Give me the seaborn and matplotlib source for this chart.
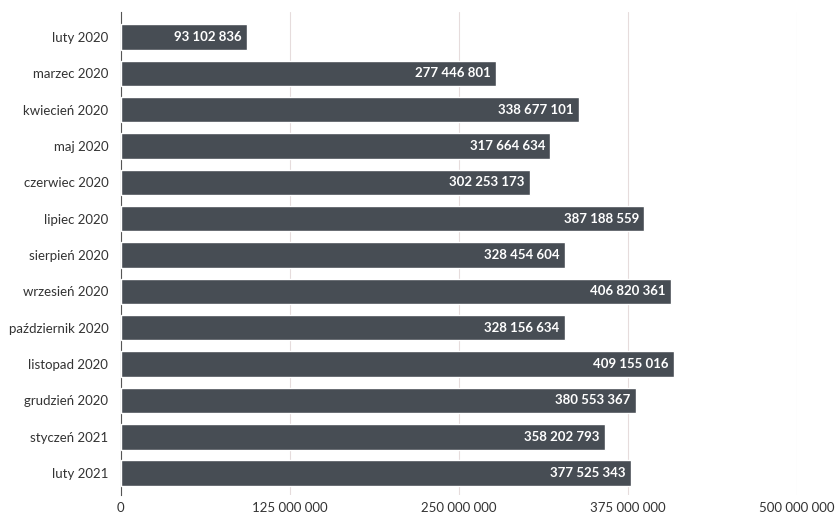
import pandas as pd
import numpy as np
import matplotlib.pyplot as plt
import seaborn as sns

# Monthly values
months = ['luty 2020', 'marzec 2020', 'kwiecień 2020', 'maj 2020', 'czerwiec 2020',
          'lipiec 2020', 'sierpień 2020', 'wrzesień 2020', 'październik 2020',
          'listopad 2020', 'grudzień 2020', 'styczeń 2021', 'luty 2021']
values = [93102836, 277446801, 338677101, 317664634, 302253173,
          387188559, 328454604, 406820361, 328156634,
          409155016, 380553367, 358202793, 377525343]
ticks = [0, 125000000, 250000000, 375000000, 500000000]


def fmt(v):
    return f'{v:,}'.replace(',', ' ')


df = pd.DataFrame({'Miesiąc': months, 'Wartość': values})

sns.set_style('white')
plt.rcParams['font.family'] = ['Lato', 'DejaVu Sans']

fig = plt.figure(figsize=(8.39, 5.14), dpi=100)
ax = fig.add_axes([0.144, 0.037, 0.806, 0.94])

sns.barplot(data=df, x='Wartość', y='Miesiąc', orient='h', color='#474d54',
            saturation=1, width=0.7, ax=ax, zorder=3)

for i, v in enumerate(values):
    ax.text(v - 4000000, i, fmt(v), ha='right', va='center', color='white',
            fontsize=9.5, fontweight='bold', zorder=4)

ax.set_xlim(0, 500000000)
ax.set_ylim(12.6, -0.69)
ax.set_xticks(ticks)
ax.set_xticklabels([fmt(t) for t in ticks])
ax.xaxis.grid(True, color='#e6dcdc', linewidth=0.8, zorder=0)
ax.set_xlabel('')
ax.set_ylabel('')
for s in ['top', 'right', 'bottom']:
    ax.spines[s].set_visible(False)
ax.spines['left'].set_color('#555555')
ax.spines['left'].set_linewidth(0.8)
ax.tick_params(axis='both', length=0, labelsize=9.5, colors='#333333')
ax.tick_params(axis='x', pad=5)
ax.tick_params(axis='y', pad=9)

fig.savefig('out.png', dpi=100)
plt.close()
